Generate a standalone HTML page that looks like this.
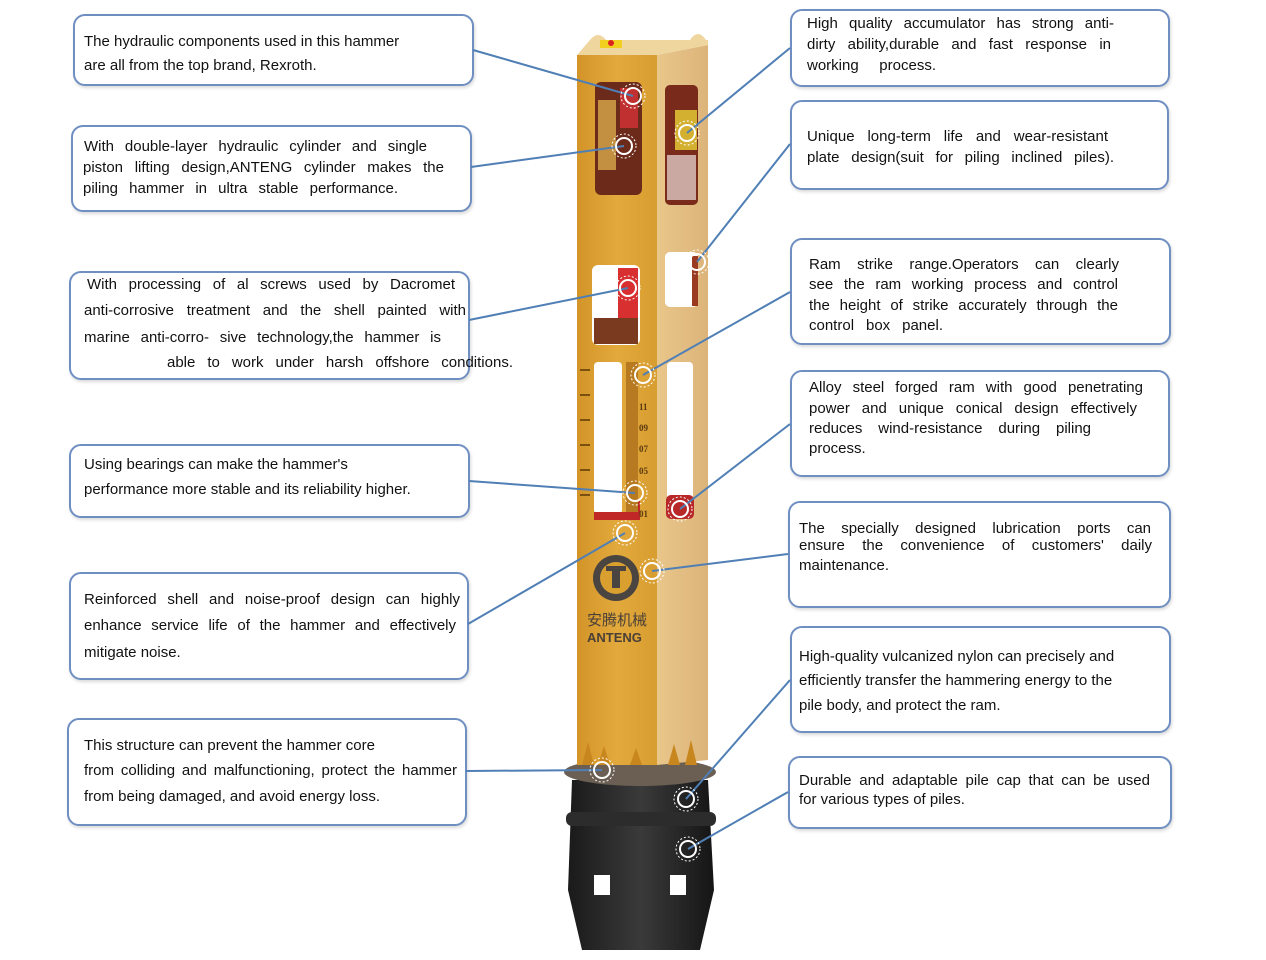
<!DOCTYPE html>
<html><head><meta charset="utf-8"><style>
body{margin:0;width:1266px;height:960px;background:#fff;position:relative;overflow:hidden;font-family:"Liberation Sans","Noto Sans CJK SC",sans-serif;color:#111}
.b{position:absolute;border:2px solid #6f8fc2;border-radius:12px;box-shadow:1px 2px 3px rgba(0,0,0,.15);box-sizing:border-box;background:#fff}
.l{position:absolute;font-size:15px;line-height:18px;white-space:nowrap;text-align:justify;text-align-last:justify}
.n{text-align-last:left}
svg{position:absolute;left:0;top:0}
</style></head><body>
<div class="b" style="left:73px;top:14px;width:401px;height:72px"></div>
<div class="b" style="left:71px;top:125px;width:401px;height:87px"></div>
<div class="b" style="left:69px;top:271px;width:401px;height:109px"></div>
<div class="b" style="left:69px;top:444px;width:401px;height:74px"></div>
<div class="b" style="left:69px;top:572px;width:400px;height:108px"></div>
<div class="b" style="left:67px;top:718px;width:400px;height:108px"></div>
<div class="b" style="left:790px;top:9px;width:380px;height:78px"></div>
<div class="b" style="left:790px;top:100px;width:379px;height:90px"></div>
<div class="b" style="left:790px;top:238px;width:381px;height:107px"></div>
<div class="b" style="left:790px;top:370px;width:380px;height:107px"></div>
<div class="b" style="left:788px;top:501px;width:383px;height:107px"></div>
<div class="b" style="left:790px;top:626px;width:381px;height:107px"></div>
<div class="b" style="left:788px;top:756px;width:384px;height:73px"></div>

<svg width="1266" height="960">
<defs>
<linearGradient id="f" x1="0" x2="1"><stop offset="0" stop-color="#d39428"/><stop offset=".5" stop-color="#e2a93c"/><stop offset="1" stop-color="#d89d30"/></linearGradient>
<linearGradient id="s" x1="0" x2="1"><stop offset="0" stop-color="#e9c68a"/><stop offset="1" stop-color="#dcb47a"/></linearGradient>
<linearGradient id="k" x1="0" x2="1"><stop offset="0" stop-color="#1a1a1a"/><stop offset=".5" stop-color="#3a3a3a"/><stop offset="1" stop-color="#151515"/></linearGradient>
</defs>
<path d="M572 780 L708 780 L714 890 L700 950 L582 950 L568 890 Z" fill="url(#k)"/>
<rect x="566" y="812" width="150" height="14" rx="6" fill="#2c2c2c"/>
<rect x="594" y="875" width="16" height="20" fill="#fff"/><rect x="670" y="875" width="16" height="20" fill="#fff"/>
<ellipse cx="640" cy="772" rx="76" ry="14" fill="#6a5f52"/>
<polygon points="577,55 657,55 657,765 577,765" fill="url(#f)"/>
<polygon points="657,55 708,45 708,760 657,765" fill="url(#s)"/>
<polygon points="577,55 590,40 708,40 708,45 657,55" fill="#efd59e"/>
<path d="M590 40 Q598 30 606 40 Z M690 40 Q698 28 706 40 Z" fill="#efd59e"/>
<rect x="600" y="40" width="22" height="8" fill="#f2d020"/><circle cx="611" cy="43" r="3" fill="#d22"/>
<g fill="#c8861e"><polygon points="582,765 588,742 594,765"/><polygon points="598,765 604,746 610,765"/><polygon points="630,765 636,748 642,765"/><polygon points="668,765 674,744 680,765"/><polygon points="685,765 691,740 697,765"/></g>
<rect x="595" y="82" width="47" height="113" rx="6" fill="#6b2a1a"/>
<rect x="598" y="100" width="18" height="70" fill="#c29040"/><rect x="620" y="88" width="18" height="40" fill="#c03030"/>
<rect x="592" y="265" width="48" height="80" rx="6" fill="#fff"/><rect x="618" y="268" width="20" height="50" fill="#d83030"/><rect x="594" y="318" width="44" height="26" fill="#7a3a20"/>
<rect x="594" y="362" width="28" height="152" rx="4" fill="#fff"/>
<polygon points="594,512 630,512 640,500 640,520 594,520" fill="#c02828"/>
<rect x="626" y="362" width="12" height="150" fill="#b87a20"/>
<rect x="665" y="85" width="33" height="120" rx="5" fill="#7a2a1a"/><rect x="675" y="110" width="22" height="40" fill="#d4b030"/><rect x="667" y="155" width="29" height="45" fill="#fff" opacity=".6"/>
<rect x="665" y="252" width="33" height="55" rx="5" fill="#fff"/><rect x="692" y="256" width="6" height="50" fill="#9a3a20"/>
<rect x="667" y="362" width="26" height="138" rx="4" fill="#fff"/><rect x="666" y="495" width="28" height="24" rx="5" fill="#b82828"/>
<g stroke="#7a5010" stroke-width="2"><line x1="580" y1="370" x2="590" y2="370"/><line x1="580" y1="395" x2="590" y2="395"/><line x1="580" y1="420" x2="590" y2="420"/><line x1="580" y1="445" x2="590" y2="445"/><line x1="580" y1="470" x2="590" y2="470"/><line x1="580" y1="495" x2="590" y2="495"/></g>
<g font-family="Liberation Serif" font-size="9" fill="#5a3a10" font-weight="bold"><text x="639" y="410">11</text><text x="639" y="431">09</text><text x="639" y="452">07</text><text x="639" y="474">05</text><text x="639" y="517">01</text></g>
<circle cx="616" cy="578" r="23" fill="#4a4540"/><circle cx="616" cy="578" r="16" fill="#d9a030"/><rect x="612" y="566" width="8" height="22" fill="#4a4540"/><rect x="606" y="566" width="20" height="5" fill="#4a4540"/>
<text x="587" y="625" font-size="15" fill="#4a4038" font-family="Noto Sans CJK SC,sans-serif">安腾机械</text>
<text x="587" y="642" font-size="13" fill="#4a4038" font-weight="bold" font-family="Liberation Sans">ANTENG</text>
<g stroke="#4f7fb5" stroke-width="2" fill="none">
<line x1="473" y1="50" x2="633" y2="96"/><line x1="471" y1="167" x2="624" y2="146"/><line x1="469" y1="320" x2="628" y2="288"/><line x1="469" y1="481" x2="635" y2="493"/><line x1="468" y1="624" x2="625" y2="533"/><line x1="466" y1="771" x2="602" y2="770"/>
<line x1="790" y1="48" x2="687" y2="133"/><line x1="790" y1="144" x2="697" y2="262"/><line x1="790" y1="292" x2="643" y2="375"/><line x1="790" y1="424" x2="680" y2="509"/><line x1="788" y1="554" x2="652" y2="571"/><line x1="790" y1="680" x2="686" y2="799"/><line x1="788" y1="792" x2="688" y2="849"/>
</g>
<g fill="none" stroke="#fff">
<g stroke-width="2"><circle cx="633" cy="96" r="8"/><circle cx="624" cy="146" r="8"/><circle cx="628" cy="288" r="8"/><circle cx="635" cy="493" r="8"/><circle cx="625" cy="533" r="8"/><circle cx="602" cy="770" r="8"/><circle cx="687" cy="133" r="8"/><circle cx="697" cy="262" r="8"/><circle cx="643" cy="375" r="8"/><circle cx="680" cy="509" r="8"/><circle cx="652" cy="571" r="8"/><circle cx="686" cy="799" r="8"/><circle cx="688" cy="849" r="8"/></g>
<g stroke-width="1" stroke-dasharray="2 2"><circle cx="633" cy="96" r="12"/><circle cx="624" cy="146" r="12"/><circle cx="628" cy="288" r="12"/><circle cx="635" cy="493" r="12"/><circle cx="625" cy="533" r="12"/><circle cx="602" cy="770" r="12"/><circle cx="687" cy="133" r="12"/><circle cx="697" cy="262" r="12"/><circle cx="643" cy="375" r="12"/><circle cx="680" cy="509" r="12"/><circle cx="652" cy="571" r="12"/><circle cx="686" cy="799" r="12"/><circle cx="688" cy="849" r="12"/></g>
</g>
</svg>

<div class="l n" style="left:84px;top:33px">The hydraulic components used in this hammer</div>
<div class="l n" style="left:84px;top:57px">are all from the top brand, Rexroth.</div>
<div class="l" style="left:84px;top:138px;width:343px">With double-layer hydraulic cylinder and single</div>
<div class="l" style="left:83px;top:159px;width:361px">piston lifting design,ANTENG cylinder makes the</div>
<div class="l" style="left:83px;top:180px;width:315px">piling hammer in ultra stable performance.</div>
<div class="l" style="left:87px;top:276px;width:368px">With processing of al screws used by Dacromet</div>
<div class="l" style="left:84px;top:302px;width:382px">anti-corrosive treatment and the shell painted with</div>
<div class="l" style="left:84px;top:329px;width:357px">marine anti-corro- sive technology,the hammer is</div>
<div class="l" style="left:167px;top:354px;width:346px">able to work under harsh offshore conditions.</div>
<div class="l n" style="left:84px;top:456px">Using bearings can make the hammer's</div>
<div class="l n" style="left:84px;top:481px">performance more stable and its reliability higher.</div>
<div class="l" style="left:84px;top:591px;width:376px">Reinforced shell and noise-proof design can highly</div>
<div class="l" style="left:84px;top:617px;width:372px">enhance service life of the hammer and effectively</div>
<div class="l n" style="left:84px;top:644px">mitigate noise.</div>
<div class="l n" style="left:84px;top:737px">This structure can prevent the hammer core</div>
<div class="l" style="left:84px;top:762px;width:373px">from colliding and malfunctioning, protect the hammer</div>
<div class="l n" style="left:84px;top:788px">from being damaged, and avoid energy loss.</div>

<div class="l" style="left:807px;top:15px;width:307px">High quality accumulator has strong anti-</div>
<div class="l" style="left:807px;top:36px;width:304px">dirty ability,durable and fast response in</div>
<div class="l" style="left:807px;top:57px;width:129px">working process.</div>
<div class="l" style="left:807px;top:128px;width:301px">Unique long-term life and wear-resistant</div>
<div class="l" style="left:807px;top:149px;width:307px">plate design(suit for piling inclined piles).</div>
<div class="l" style="left:809px;top:256px;width:310px">Ram strike range.Operators can clearly</div>
<div class="l" style="left:809px;top:276px;width:309px">see the ram working process and control</div>
<div class="l" style="left:809px;top:297px;width:309px">the height of strike accurately through the</div>
<div class="l" style="left:809px;top:317px;width:134px">control box panel.</div>
<div class="l" style="left:809px;top:379px;width:334px">Alloy steel forged ram with good penetrating</div>
<div class="l" style="left:809px;top:400px;width:328px">power and unique conical design effectively</div>
<div class="l" style="left:809px;top:420px;width:282px">reduces wind-resistance during piling</div>
<div class="l n" style="left:809px;top:440px">process.</div>
<div class="l" style="left:799px;top:520px;width:352px">The specially designed lubrication ports can</div>
<div class="l" style="left:799px;top:537px;width:353px">ensure the convenience of customers' daily</div>
<div class="l n" style="left:799px;top:557px">maintenance.</div>
<div class="l n" style="left:799px;top:648px">High-quality vulcanized nylon can precisely and</div>
<div class="l n" style="left:799px;top:672px">efficiently transfer the hammering energy to the</div>
<div class="l n" style="left:799px;top:697px">pile body, and protect the ram.</div>
<div class="l" style="left:799px;top:772px;width:351px">Durable and adaptable pile cap that can be used</div>
<div class="l n" style="left:799px;top:791px">for various types of piles.</div>
</body></html>
